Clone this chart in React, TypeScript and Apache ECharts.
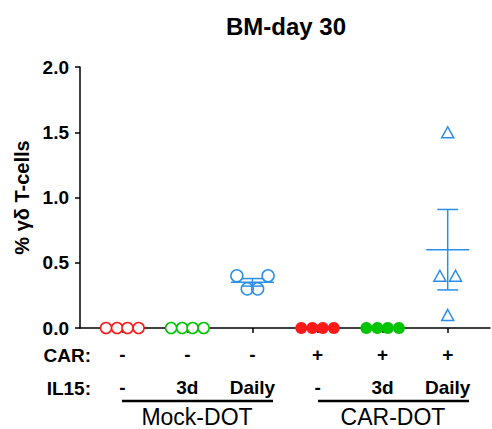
import React, { useEffect, useRef } from "react";
import * as echarts from "echarts";

const groupPositions = [1, 2, 3, 4, 5, 6];
const carLabels = ["-", "-", "-", "+", "+", "+"];
const il15Labels = ["-", "3d", "Daily", "-", "3d", "Daily"];
const yTicks = [0, 0.5, 1, 1.5, 2];

// values per group (percent gamma-delta T-cells)
const mockNone = [0, 0, 0, 0];
const mock3d = [0, 0, 0, 0];
const mockDaily = [0.4, 0.4, 0.3, 0.3];
const carNone = [0, 0, 0, 0];
const car3d = [0, 0, 0, 0];
const carDaily = [1.5, 0.4, 0.4, 0.1];

// horizontal jitter of each point within its group
const jitterFlat = [-0.25, -0.08, 0.08, 0.25];
const jitterMockDaily = [-0.24, 0.24, -0.08, 0.08];
const jitterCarDaily = [0, -0.12, 0.12, 0];

const RED = "#FF1A1A";
const GREEN = "#00C400";
const BLUE = "#2B8FEA";

function meanSem(v: number[]) {
  const m = v.reduce((a, b) => a + b, 0) / v.length;
  const sd = Math.sqrt(v.reduce((a, b) => a + (b - m) * (b - m), 0) / (v.length - 1));
  return [m, sd / Math.sqrt(v.length)];
}

function pts(pos: number, vals: number[], jit: number[]) {
  return vals.map((v, i) => [pos + jit[i], v]);
}

export default function App() {
  const ref = useRef<HTMLDivElement>(null);
  useEffect(() => {
    const chart = echarts.init(ref.current!, null, { renderer: "svg" });
    const errData = [
      [3, ...meanSem(mockDaily)],
      [6, ...meanSem(carDaily)],
    ];
    const font = "Liberation Sans, Arial, sans-serif";
    chart.setOption({
      animation: false,
      grid: { left: 80, right: 2, top: 67, bottom: 101, containLabel: false },
      graphic: [
        {
          type: "text",
          x: 286,
          y: 26,
          style: { text: "BM-day 30", fontSize: 24, fontWeight: "bold", fontFamily: font, fill: "#000", textAlign: "center", textVerticalAlign: "middle" },
        },
        {
          type: "text",
          x: 91,
          y: 355,
          style: { text: "CAR:", fontSize: 19, fontWeight: "bold", fontFamily: font, fill: "#000", textAlign: "right", textVerticalAlign: "middle" },
        },
        {
          type: "text",
          x: 91,
          y: 388,
          style: { text: "IL15:", fontSize: 19, fontWeight: "bold", fontFamily: font, fill: "#000", textAlign: "right", textVerticalAlign: "middle" },
        },
        { type: "line", shape: { x1: 122, y1: 401, x2: 273, y2: 401 }, style: { stroke: "#000", lineWidth: 2.5 } },
        { type: "line", shape: { x1: 318, y1: 401, x2: 469, y2: 401 }, style: { stroke: "#000", lineWidth: 2.5 } },
        {
          type: "text",
          x: 197,
          y: 417,
          style: { text: "Mock-DOT", fontSize: 23, fontFamily: font, fill: "#000", textAlign: "center", textVerticalAlign: "middle" },
        },
        {
          type: "text",
          x: 393,
          y: 417,
          style: { text: "CAR-DOT", fontSize: 23, fontFamily: font, fill: "#000", textAlign: "center", textVerticalAlign: "middle" },
        },
      ],
      xAxis: {
        type: "value",
        min: 0.35,
        max: 6.65,
        splitLine: { show: false },
        axisLine: { show: true, onZero: false, lineStyle: { color: "#000", width: 1.5 } },
        axisTick: { show: true, customValues: groupPositions, length: 5, lineStyle: { color: "#000", width: 1.5 } },
        axisLabel: {
          customValues: groupPositions,
          margin: 10,
          formatter: (v: number) => {
            const i = Math.round(v) - 1;
            return carLabels[i] + "\n" + il15Labels[i];
          },
          lineHeight: 33,
          fontSize: 19,
          fontWeight: "bold",
          fontFamily: font,
          color: "#000",
        },
      },
      yAxis: {
        type: "value",
        min: 0,
        max: 2,
        interval: 0.5,
        name: "% γδ T-cells",
        nameLocation: "middle",
        nameGap: 47,
        nameTextStyle: { fontSize: 20, fontWeight: "bold", fontFamily: font, color: "#000" },
        splitLine: { show: false },
        axisLine: { show: true, lineStyle: { color: "#000", width: 1.5 } },
        axisTick: { show: true, length: 5, lineStyle: { color: "#000", width: 1.5 } },
        axisLabel: {
          customValues: yTicks,
          formatter: (v: number) => v.toFixed(1),
          fontSize: 19,
          fontWeight: "bold",
          fontFamily: font,
          color: "#000",
          margin: 11,
        },
      },
      series: [
        {
          type: "custom",
          z: 1,
          data: errData,
          renderItem: (params: any, api: any) => {
            const x = api.value(0);
            const m = api.value(1);
            const s = api.value(2);
            const c = api.coord([x, m]);
            const hi = api.coord([x, m + s]);
            const lo = api.coord([x, m - s]);
            const st = { stroke: BLUE, lineWidth: 1.5 };
            return {
              type: "group",
              children: [
                { type: "line", shape: { x1: c[0] - 21.5, y1: c[1], x2: c[0] + 21.5, y2: c[1] }, style: st },
                { type: "line", shape: { x1: hi[0], y1: hi[1], x2: lo[0], y2: lo[1] }, style: st },
                { type: "line", shape: { x1: hi[0] - 10.5, y1: hi[1], x2: hi[0] + 10.5, y2: hi[1] }, style: st },
                { type: "line", shape: { x1: lo[0] - 10.5, y1: lo[1], x2: lo[0] + 10.5, y2: lo[1] }, style: st },
              ],
            };
          },
        },
        {
          type: "scatter",
          z: 3,
          symbol: "circle",
          symbolSize: 11,
          data: pts(1, mockNone, jitterFlat),
          itemStyle: { color: "#fff", borderColor: RED, borderWidth: 1.5, opacity: 1 },
        },
        {
          type: "scatter",
          z: 3,
          symbol: "circle",
          symbolSize: 11,
          data: pts(2, mock3d, jitterFlat),
          itemStyle: { color: "#fff", borderColor: GREEN, borderWidth: 1.5, opacity: 1 },
        },
        {
          type: "scatter",
          z: 3,
          symbol: "circle",
          symbolSize: 12,
          data: pts(3, mockDaily, jitterMockDaily),
          itemStyle: { color: "rgba(255,255,255,0)", borderColor: BLUE, borderWidth: 1.5, opacity: 1 },
        },
        {
          type: "scatter",
          z: 3,
          symbol: "circle",
          symbolSize: 12,
          data: pts(4, carNone, jitterFlat),
          itemStyle: { color: RED, opacity: 1 },
        },
        {
          type: "scatter",
          z: 3,
          symbol: "circle",
          symbolSize: 12,
          data: pts(5, car3d, jitterFlat),
          itemStyle: { color: GREEN, opacity: 1 },
        },
        {
          type: "scatter",
          z: 3,
          symbol: "triangle",
          symbolSize: [12, 11],
          data: pts(6, carDaily, jitterCarDaily),
          itemStyle: { color: "rgba(255,255,255,0)", borderColor: BLUE, borderWidth: 1.5, opacity: 1 },
        },
      ],
    });
    return () => chart.dispose();
  }, []);
  return <div ref={ref} style={{ position: "fixed", left: 0, top: 0, width: 492, height: 429, background: "#fff" }} />;
}
